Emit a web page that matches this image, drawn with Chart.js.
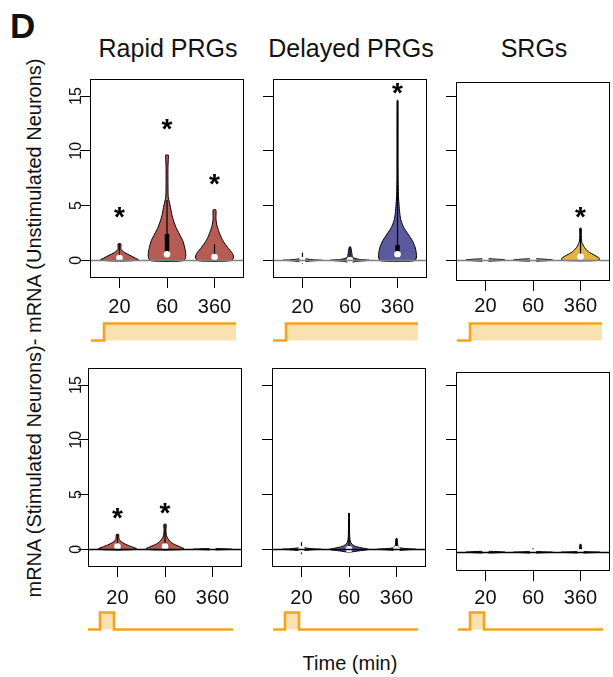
<!DOCTYPE html>
<html>
<head>
<meta charset="utf-8">
<script src="https://cdn.jsdelivr.net/npm/chart.js@4.4.1/dist/chart.umd.min.js"></script>
<style>
  html, body { margin: 0; padding: 0; background: #fff; }
  body { width: 613px; height: 677px; position: relative; overflow: hidden;
         font-family: "Liberation Sans", Arial, Helvetica, sans-serif; color: #111; }
  canvas { position: absolute; }
  .lbl { position: absolute; white-space: nowrap; line-height: 1; }
</style>
</head>
<body>
<div class="lbl" style="left:10px;top:8px;font-size:35px;font-weight:bold;">D</div>
<div class="lbl" style="left:34px;top:328px;font-size:20px;transform:translate(-50%,-50%) rotate(-90deg);">mRNA (Stimulated Neurons)- mRNA (Unstimulated Neurons)</div>
<div class="lbl" style="left:350px;top:653px;font-size:20px;transform:translateX(-50%);">Time (min)</div>
<script>
// Datos
const timeLabels = ['20', '60', '360'];
const groupNames = ['Rapid PRGs', 'Delayed PRGs', 'SRGs'];
const groupColors = ['#b75b55', '#5b5a9d', '#e5b33f'];
const yTicks = [0, 5, 10, 15];

// violines: pares [valor, medio ancho] de abajo hacia arriba
const rapidUnstimViolins = [
  [[-0.08,0],[-0.03,0.3],[0.05,0.4],[0.2,0.33],[0.45,0.22],[0.7,0.11],[0.9,0.05],[1.05,0.03],[1.5,0.03],[1.53,0]],
  [[-0.12,0],[-0.05,0.33],[0.15,0.385],[0.6,0.395],[1.2,0.37],[1.8,0.33],[2.4,0.26],[3.0,0.19],[3.6,0.14],[4.2,0.1],[4.8,0.075],[5.3,0.05],[5.8,0.025],[7.0,0.02],[8.5,0.02],[9.4,0.03],[9.6,0.03],[9.62,0]],
  [[-0.1,0],[-0.04,0.34],[0.2,0.4],[0.6,0.38],[1.2,0.27],[1.7,0.19],[2.1,0.14],[2.7,0.085],[3.3,0.045],[3.8,0.03],[4.6,0.03],[4.63,0]]
];
const rapidUnstimMedians = [0.2, 0.55, 0.3];
const rapidUnstimBoxes = [null, [0.55, 2.4], [0.1, 0.5]];
const rapidUnstimWhiskers = [[0, 1.5], [0.3, 5.5], [0, 1.45]];
const rapidUnstimStars = [4.3, 12.3, 7.3];

const delayedUnstimViolins = [
  [[-0.15,0],[-0.05,0.22],[0,0.41],[0.05,0.22],[0.15,0]],
  [[-0.22,0],[-0.1,0.14],[0,0.41],[0.08,0.2],[0.2,0.08],[0.35,0.05],[0.6,0.04],[0.9,0.03],[1.2,0.015],[1.25,0]],
  [[-0.1,0],[-0.04,0.36],[0.3,0.4],[0.8,0.39],[1.2,0.37],[1.8,0.31],[2.4,0.22],[3.0,0.13],[3.6,0.075],[4.2,0.05],[4.9,0.035],[5.8,0.02],[8,0.012],[14.6,0.01],[14.62,0]]
];
const delayedUnstimMedians = [0, 0, 0.55];
const delayedUnstimBoxes = [null, null, [0.55, 1.4]];
const delayedUnstimWhiskers = [[-0.35, 0.7], [-0.15, 1.2], [0.2, 14.5]];
const delayedUnstimStars = [null, null, 15.6];

const srgUnstimViolins = [
  [[-0.12,0],[-0.06,0.3],[0,0.41],[0.06,0.3],[0.12,0]],
  [[-0.12,0],[-0.06,0.3],[0,0.41],[0.06,0.3],[0.12,0]],
  [[-0.08,0],[-0.03,0.38],[0.12,0.4],[0.25,0.37],[0.45,0.29],[0.75,0.17],[1.0,0.11],[1.25,0.07],[1.5,0.04],[1.75,0.022],[2.2,0.016],[2.9,0.016],[2.93,0]]
];
const srgUnstimMedians = [0, 0, 0.3];
const srgUnstimBoxes = [null, null, null];
const srgUnstimWhiskers = [null, null, [0, 2.9]];
const srgUnstimStars = [null, null, 4.3];

const rapidStimViolins = [
  [[-0.08,0],[-0.03,0.33],[0.05,0.4],[0.2,0.32],[0.4,0.2],[0.6,0.11],[0.8,0.05],[1.0,0.03],[1.35,0.025],[1.38,0]],
  [[-0.08,0],[-0.03,0.34],[0.05,0.4],[0.2,0.33],[0.4,0.22],[0.6,0.14],[0.85,0.08],[1.1,0.045],[1.4,0.025],[1.8,0.02],[2.27,0.025],[2.3,0]],
  [[-0.07,0],[0,0.41],[0.07,0]]
];
const rapidStimMedians = [0.25, 0.25, 0];
const rapidStimBoxes = [null, null, null];
const rapidStimWhiskers = [[0, 1.35], [0, 2.25], null];
const rapidStimStars = [3.15, 3.6, null];

const delayedStimViolins = [
  [[-0.15,0],[-0.05,0.22],[0,0.41],[0.05,0.22],[0.15,0]],
  [[-0.28,0],[-0.15,0.2],[-0.05,0.38],[0,0.41],[0.1,0.3],[0.25,0.15],[0.4,0.08],[0.6,0.04],[0.9,0.02],[1.5,0.012],[3.3,0.008],[3.32,0]],
  [[-0.12,0],[-0.05,0.22],[0,0.41],[0.06,0.2],[0.15,0.06],[0.3,0.03],[0.6,0.02],[0.95,0.015],[1.0,0]]
];
const delayedStimMedians = [0, 0, 0];
const delayedStimBoxes = [null, null, null];
const delayedStimWhiskers = [[-0.45, 0.65], [0, 3.3], [-0.1, 1.0]];
const delayedStimStars = [null, null, null];

const srgStimViolins = [
  [[-0.37,0],[-0.28,0.41],[-0.19,0]],
  [[-0.37,0],[-0.28,0.41],[-0.2,0.06],[-0.05,0.02],[0.05,0]],
  [[-0.37,0],[-0.28,0.41],[-0.2,0.06],[0.0,0.02],[0.42,0.015],[0.44,0]]
];
const srgStimMedians = [-0.28, -0.28, -0.28];
const srgStimBoxes = [null, null, null];
const srgStimWhiskers = [null, [-0.28, 0.05], [-0.28, 0.42]];
const srgStimStars = [null, null, null];

// linea de referencia por fila/panel
const baselines = [[0, 0, 0], [0, 0, -0.28]];
const yMins = [[-1.62, -1.62, -1.92], [-1.62, -1.62, -2.0]];
const yMaxs = [[16.56, 16.56, 16.29], [16.56, 16.56, 16.2]];
const xMin = 0.38, xMax = 3.62;

// estimulo: tiempo esquematico / nivel
const sustainedX = [0, 13, 13, 145];
const sustainedY = [0, 0, 1, 1];
const pulseX = [0, 12, 12, 26, 26, 145];
const pulseY = [0, 0, 1, 1, 0, 0];

// layout (pixeles)
const boxLeft = [[90, 273, 456], [88, 272, 456]];
const boxTop = [[79, 79, 82], [368, 368, 372]];
const boxW = 156, boxH = 199;
const axisW = 40, axisH = 40, padTop = 20;
const xLabelPad = [[7.5, 7.5, 3.5], [9, 9, 5]];
const yLabelPad = [-5, -7];
const stimLeft = [[91, 273, 457], [88, 273, 458]];
const stimTop = [320, 609];
const stimLen = 145;

const fontFam = '"Liberation Sans", Arial, Helvetica, sans-serif';
Chart.defaults.font.family = fontFam;

groupNames.forEach(function (name, i) {
  const d = document.createElement('div');
  d.className = 'lbl';
  d.textContent = name;
  d.style.fontSize = '25px';
  d.style.top = '36px';
  d.style.left = (boxLeft[0][i] + boxW / 2) + 'px';
  d.style.transform = 'translateX(-50%)';
  document.body.appendChild(d);
});

function violinPoints(profile, center) {
  const pts = profile.map(p => ({x: center + p[1], y: p[0]}));
  for (let k = profile.length - 2; k >= 0; k--) {
    pts.push({x: center - profile[k][1], y: profile[k][0]});
  }
  return pts;
}

const panelPlugin = {
  id: 'panelExtras',
  afterDatasetsDraw(chart, args, opts) {
    const ctx = chart.ctx;
    const a = chart.chartArea;
    const xs = chart.scales.x, ys = chart.scales.y;
    ctx.save();
    // linea en cero
    const yb = Math.round(ys.getPixelForValue(opts.baseline)) + 0.5;
    ctx.strokeStyle = opts.lineColor;
    ctx.lineWidth = opts.lineWidth;
    ctx.beginPath();
    ctx.moveTo(a.left, yb);
    ctx.lineTo(a.right, yb);
    ctx.stroke();
    // asteriscos
    ctx.fillStyle = '#000';
    ctx.font = 'bold 28px ' + fontFam;
    ctx.textAlign = 'center';
    ctx.textBaseline = 'alphabetic';
    opts.stars.forEach(function (s, i) {
      if (s === null) return;
      ctx.fillText('*', xs.getPixelForValue(i + 1), ys.getPixelForValue(s) + 12.5);
    });
    // marco
    ctx.strokeStyle = '#000';
    ctx.lineWidth = 1;
    ctx.strokeRect(a.left + 0.5, a.top + 0.5, a.right - a.left - 1, a.bottom - a.top - 1);
    ctx.restore();
  }
};

function makePanel(row, col, violins, medians, boxes, whiskers, stars) {
  const canvas = document.createElement('canvas');
  const w = boxW + axisW + 2, h = boxH + padTop + axisH;
  canvas.width = w; canvas.height = h;
  canvas.style.width = w + 'px'; canvas.style.height = h + 'px';
  canvas.style.left = (boxLeft[row][col] - axisW) + 'px';
  canvas.style.top = (boxTop[row][col] - padTop) + 'px';
  document.body.appendChild(canvas);

  const datasets = [];
  violins.forEach(function (v, i) {
    datasets.push({
      data: violinPoints(v, i + 1),
      borderColor: '#000', borderWidth: 1,
      backgroundColor: groupColors[col],
      fill: 'shape', tension: 0.25, pointRadius: 0, order: 4
    });
  });
  whiskers.forEach(function (wk, i) {
    if (!wk) return;
    datasets.push({
      data: [{x: i + 1, y: wk[0]}, {x: i + 1, y: wk[1]}],
      borderColor: '#000', borderWidth: 1.2, pointRadius: 0, fill: false, order: 3
    });
  });
  boxes.forEach(function (b, i) {
    if (!b) return;
    datasets.push({
      data: [{x: i + 1, y: b[0]}, {x: i + 1, y: b[1]}],
      borderColor: '#000', borderWidth: 4.5, borderCapStyle: 'butt',
      pointRadius: 0, fill: false, order: 2
    });
  });
  datasets.push({
    data: medians.map((m, i) => ({x: i + 1, y: m})),
    showLine: false, pointRadius: 3.3, pointBackgroundColor: '#fff',
    pointBorderWidth: 0, pointBorderColor: '#fff', order: 1
  });

  new Chart(canvas, {
    type: 'line',
    data: {datasets: datasets},
    options: {
      responsive: false, animation: false, events: [],
      layout: {padding: {left: 0, right: 2, top: padTop, bottom: 0}},
      plugins: {
        legend: {display: false}, tooltip: {enabled: false},
        panelExtras: {
          baseline: baselines[row][col], stars: stars,
          lineColor: row === 0 ? '#808080' : '#000',
          lineWidth: row === 0 ? 1.6 : 1.3
        }
      },
      scales: {
        x: {
          type: 'linear', min: xMin, max: xMax,
          afterBuildTicks: ax => { ax.ticks = timeLabels.map((t, i) => ({value: i + 1})); },
          afterFit: ax => { ax.height = axisH; },
          ticks: {
            autoSkip: false, maxRotation: 0, color: '#111',
            font: {size: 20}, padding: xLabelPad[row][col],
            callback: (v, i) => timeLabels[i]
          },
          grid: {display: true, drawOnChartArea: false, drawTicks: true, tickLength: 10, color: '#000', lineWidth: 1},
          border: {display: false}
        },
        y: {
          type: 'linear', min: yMins[row][col], max: yMaxs[row][col],
          afterBuildTicks: ax => { ax.ticks = yTicks.map(v => ({value: v})); },
          afterFit: ax => { ax.width = axisW; },
          ticks: {
            display: col === 0, autoSkip: false, color: '#111',
            font: {size: 16}, minRotation: 90, maxRotation: 90,
            crossAlign: 'center', padding: yLabelPad[row],
            callback: v => String(v)
          },
          grid: {display: true, drawOnChartArea: false, drawTicks: true, tickLength: 10, color: '#000', lineWidth: 1},
          border: {display: false}
        }
      }
    },
    plugins: [panelPlugin]
  });
}

function makeStim(row, col) {
  const xs = row === 0 ? sustainedX : pulseX;
  const ys = row === 0 ? sustainedY : pulseY;
  const canvas = document.createElement('canvas');
  const w = stimLen + 4, h = 24;
  canvas.width = w; canvas.height = h;
  canvas.style.width = w + 'px'; canvas.style.height = h + 'px';
  canvas.style.left = (stimLeft[row][col] - 2) + 'px';
  canvas.style.top = stimTop[row] + 'px';
  document.body.appendChild(canvas);
  new Chart(canvas, {
    type: 'line',
    data: {datasets: [{
      data: xs.map((x, i) => ({x: x, y: ys[i]})),
      borderColor: '#f5a21e', borderWidth: 2.6,
      backgroundColor: '#fae2b0', fill: 'origin',
      pointRadius: 0, tension: 0
    }]},
    options: {
      responsive: false, animation: false, events: [],
      layout: {padding: 0},
      plugins: {legend: {display: false}, tooltip: {enabled: false}},
      scales: {
        x: {type: 'linear', display: false, min: -2, max: stimLen + 2},
        y: {type: 'linear', display: false, min: -0.2, max: 1.2}
      }
    }
  });
}

makePanel(0, 0, rapidUnstimViolins, rapidUnstimMedians, rapidUnstimBoxes, rapidUnstimWhiskers, rapidUnstimStars);
makePanel(0, 1, delayedUnstimViolins, delayedUnstimMedians, delayedUnstimBoxes, delayedUnstimWhiskers, delayedUnstimStars);
makePanel(0, 2, srgUnstimViolins, srgUnstimMedians, srgUnstimBoxes, srgUnstimWhiskers, srgUnstimStars);
makePanel(1, 0, rapidStimViolins, rapidStimMedians, rapidStimBoxes, rapidStimWhiskers, rapidStimStars);
makePanel(1, 1, delayedStimViolins, delayedStimMedians, delayedStimBoxes, delayedStimWhiskers, delayedStimStars);
makePanel(1, 2, srgStimViolins, srgStimMedians, srgStimBoxes, srgStimWhiskers, srgStimStars);

for (let r = 0; r < 2; r++) {
  for (let c = 0; c < 3; c++) makeStim(r, c);
}
</script>
</body>
</html>
